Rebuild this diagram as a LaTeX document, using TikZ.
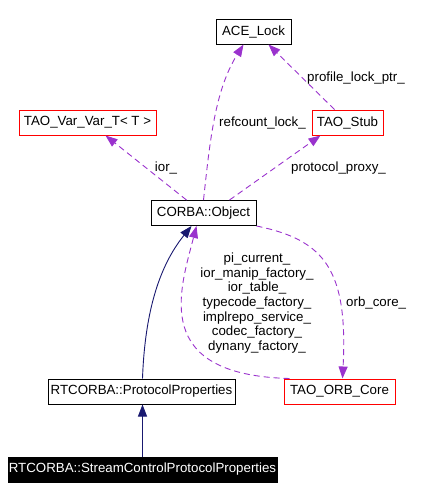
\documentclass[tikz,border=0pt]{standalone}
\usepackage{fontspec}
\setmainfont{Liberation Sans}
\usetikzlibrary{arrows.meta,positioning}
\definecolor{myusage}{RGB}{154,50,205}
\definecolor{mynavy}{RGB}{25,25,112}
\definecolor{myred}{RGB}{255,0,0}

\begin{document}
\begin{tikzpicture}[x=1pt,y=-1pt,
	every node/.style={font=\fontsize{13.3}{14.7}\selectfont,inner sep=0pt},
	classnode/.style={draw=black,line width=1pt,minimum height=25pt},
	refnode/.style={classnode,draw=myred},
	mainnode/.style={classnode,fill=black,text=white},
	usage/.style={myusage,line width=0.9pt,dash pattern=on 6pt off 4pt,-{Triangle[length=12pt,width=9pt]}},
	inherit/.style={mynavy,line width=0.9pt,-{Triangle[length=12pt,width=9pt]}},
	]
	\useasboundingbox (0,0) rectangle (431,499);
	
	% the classes
	\node[classnode,minimum width=75pt] (lock) at (253.5,31.5) {ACE\_Lock};
	\node[refnode,minimum width=137pt] (var) at (87.5,122.5) {TAO\_Var\_Var\_T< T >};
	\node[refnode,minimum width=71pt] (stub) at (347.5,122.5) {TAO\_Stub};
	\node[classnode,minimum width=105pt] (obj) at (203.5,213) {CORBA::Object};
	\node[classnode,minimum width=187pt] (prot) at (141.5,391.5) {RTCORBA::ProtocolProperties};
	\node[refnode,minimum width=111pt] (core) at (339.5,391.5) {TAO\_ORB\_Core};
	\node[mainnode,minimum width=269pt] (stream) at (142.5,469.5) {RTCORBA::StreamControlProtocolProperties};
	
	% member labels
	\node[anchor=west] (lrefcount) at (219,123) {refcount\_lock\_};
	\node[anchor=west] (lprofile) at (307,78) {profile\_lock\_ptr\_};
	\node (lior) at (166,168) {ior\_};
	\node[anchor=west] (lproxy) at (291,168) {protocol\_proxy\_};
	\node[align=center] (lfactories) at (257,303) {pi\_current\_\\ior\_manip\_factory\_\\ior\_table\_\\typecode\_factory\_\\implrepo\_service\_\\codec\_factory\_\\dynany\_factory\_};
	\node[anchor=west] (lorbcore) at (346,303) {orb\_core\_};
	
	% usage edges
	\draw[usage] (obj.north) .. controls (210,140) and (215,90) .. ([xshift=-10pt]lock.south);
	\draw[usage] ([xshift=-13pt]stub.north) -- ([xshift=15pt]lock.south);
	\draw[usage] ([xshift=-17pt]obj.north) -- ([xshift=18pt]var.south);
	\draw[usage] ([xshift=26pt]obj.north) -- ([xshift=-27pt]stub.south);
	\draw[usage] (obj.south east) .. controls (325,240) and (348,270) .. ([xshift=3pt]core.north);
	\draw[usage] ([xshift=6pt]core.north west) .. controls (150,375) and (180,290) .. ([xshift=-7pt]obj.south);
	
	% inheritance edges
	\draw[inherit] ([xshift=1pt]prot.north) .. controls (145,310) and (160,265) .. ([xshift=-12pt]obj.south);
	\draw[inherit] (stream.north) -- (stream.north |- prot.south);
	
\end{tikzpicture}
\end{document}
